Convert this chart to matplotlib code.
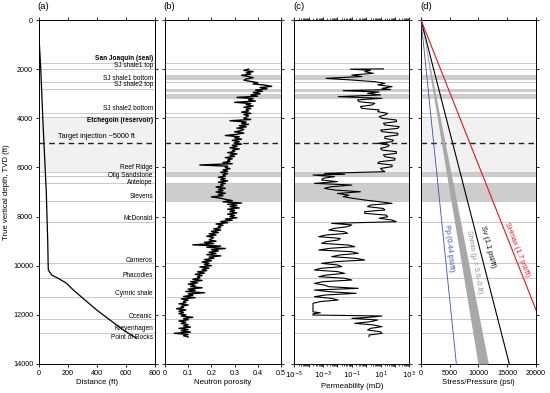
import numpy as np
import matplotlib
matplotlib.use('Agg')
import matplotlib.pyplot as plt
from matplotlib.ticker import LogLocator, NullFormatter

plt.rcParams['font.family'] = ['Liberation Sans', 'DejaVu Sans']

# well trajectory: horizontal distance vs depth
traj_depth = [0, 400, 1000, 2000, 3000, 4000, 5000, 6000, 7000, 8000, 9000, 10000,
              10175, 10379, 10515, 10718, 10989, 11396, 11803, 12210, 12617, 12915, 12956]
traj_dist = [0, 0, 5, 14, 21, 28, 36, 44, 52, 57, 62, 65,
             66, 89, 135, 192, 238, 318, 399, 490, 582, 662, 674]

# neutron porosity log, 50 ft samples from 2000 ft
por_top = 2000
por_step = 50
porosity = [
    0.36, 0.34, 0.38, 0.35, 0.37, 0.33, 0.36, 0.38, 0.35, 0.34,
    0.37, 0.40, 0.38, 0.43, 0.46, 0.41, 0.44, 0.39, 0.42, 0.38,
    0.41, 0.37, 0.40, 0.31, 0.38, 0.36, 0.39, 0.30, 0.37, 0.35,
    0.38, 0.34, 0.37, 0.35, 0.36, 0.33, 0.37, 0.34, 0.36, 0.35,
    0.34, 0.37, 0.28, 0.35, 0.33, 0.36, 0.32, 0.35, 0.31, 0.34,
    0.33, 0.30, 0.34, 0.31, 0.26, 0.32, 0.30, 0.33, 0.29, 0.32,
    0.30, 0.33, 0.29, 0.31, 0.28, 0.32, 0.29, 0.30, 0.27, 0.31,
    0.28, 0.30, 0.26, 0.29, 0.27, 0.28, 0.25, 0.29, 0.15, 0.27,
    0.26, 0.28, 0.25, 0.27, 0.24, 0.27, 0.25, 0.26, 0.23, 0.26,
    0.24, 0.27, 0.23, 0.26, 0.24, 0.25, 0.22, 0.26, 0.23, 0.25,
    0.22, 0.26, 0.23, 0.25, 0.20, 0.24, 0.26, 0.29, 0.25, 0.33,
    0.27, 0.31, 0.28, 0.32, 0.27, 0.30, 0.28, 0.31, 0.27, 0.30,
    0.28, 0.31, 0.26, 0.29, 0.24, 0.27, 0.22, 0.25, 0.23, 0.24,
    0.21, 0.24, 0.20, 0.23, 0.19, 0.22, 0.18, 0.21, 0.20, 0.19,
    0.22, 0.17, 0.21, 0.12, 0.24, 0.18, 0.26, 0.20, 0.23, 0.19,
    0.22, 0.18, 0.24, 0.19, 0.21, 0.17, 0.20, 0.16, 0.19, 0.17,
    0.20, 0.15, 0.19, 0.16, 0.18, 0.14, 0.17, 0.13, 0.16, 0.14,
    0.15, 0.12, 0.16, 0.11, 0.14, 0.10, 0.13, 0.11, 0.16, 0.10,
    0.13, 0.09, 0.17, 0.10, 0.12, 0.08, 0.13, 0.07, 0.10, 0.08,
    0.09, 0.06, 0.10, 0.07, 0.08, 0.05, 0.09, 0.06, 0.08, 0.06,
    0.09, 0.07, 0.12, 0.08, 0.10, 0.06, 0.09, 0.07, 0.10, 0.08,
    0.11, 0.06, 0.10, 0.07, 0.11, 0.04, 0.10, 0.08, 0.10,
]

# permeability log (log10 mD)
perm_depth = [1990, 2000, 2050, 2103, 2170, 2238, 2300, 2374, 2442, 2510, 2578, 2640,
              2713, 2781, 2830, 2876, 2930, 2985, 3050, 3120, 3188, 3250, 3324, 3390,
              3459, 3520, 3595, 3660, 3731, 3800, 3867, 3930, 4002, 4070, 4138, 4200,
              4274, 4340, 4409, 4480, 4545, 4610, 4680, 4750, 4816, 4890, 4952, 5020,
              5090, 5155, 5220, 5291, 5360, 5427, 5490, 5562, 5630, 5698, 5770, 5834,
              5900, 5969, 6040, 6105, 6173, 6241, 6280, 6309, 6377, 6440, 6512, 6580,
              6648, 6716, 6790, 6851, 6920, 6990, 7060, 7130, 7190, 7260, 7326, 7400,
              7462, 7530, 7597, 7670, 7733, 7800, 7869, 7940, 8004, 8070, 8140, 8208,
              8276, 8340, 8411, 8480, 8547, 8620, 8683, 8750, 8818, 8890, 8954, 9020,
              9090, 9160, 9225, 9290, 9361, 9430, 9497, 9560, 9632, 9700, 9768, 9830,
              9904, 9970, 10039, 10110, 10175, 10240, 10311, 10380, 10446, 10510, 10582, 10650,
              10718, 10790, 10853, 10921, 10989, 11060, 11125, 11190, 11260, 11330, 11396, 11460,
              11532, 11600, 11667, 11803, 11880, 11912, 11960, 12006, 12047, 12100, 12142, 12210,
              12280, 12345, 12410, 12481, 12550, 12617, 12690, 12752, 12820, 12888]
perm_log = [1.2, -1.1, 0.3, -0.1, 0.5, -1.0, -0.3, -2.8, -1.0, 0.6, 1.3, 0.8,
            1.8, 1.1, 1.7, -1.6, 0.9, 0.1, 1.0, -1.95, 1.1, -0.6, -0.5, 0.6,
            0.4, -0.4, -0.3, 0.9, 0.8, 1.5, 1.3, 0.9, 1.1, 2.1, 2.1, 1.2,
            1.3, 2.3, 2.2, 1.0, 1.1, 2.2, 2.2, 1.3, 1.3, 1.9, 1.8, 0.8,
            1.6, 1.5, 1.0, 1.1, 2.1, 2.1, 1.2, 1.3, 2.0, 2.0, 0.9, 0.8,
            1.8, 1.8, 1.0, 1.1, 1.3, -2.9, -1.5, -3.7, -2.2, -3.0, -3.1, -2.0,
            -3.6, -1.0, -2.5, -2.9, -2.2, -0.4, -2.0, -1.2, -1.6, -0.9, -0.1, 1.0,
            1.8, 0.3, 0.1, 1.2, 1.3, -0.1, -0.1, 1.4, 1.5, 0.9, 1.8, 2.1,
            -2.4, -1.0, -1.3, -2.2, -2.6, -1.5, -1.3, -2.8, -3.3, -1.8, -1.95, -2.8,
            -3.1, -1.2, -0.8, -2.5, -3.3, -1.0, -0.55, -1.8, -2.4, -0.7, -0.1, -2.0,
            -3.1, -2.0, -1.7, -3.2, -3.6, -2.0, -1.5, -2.8, -3.3, -1.5, -1.0, -3.0,
            -3.6, -2.9, -2.6, -0.55, -3.6, -2.5, -0.7, -2.8, -3.6, -2.4, -1.95, -3.2,
            -3.7, -3.7, -3.7, -3.7, -3.7, -3.2, -3.7, -3.7, 1.1, 0.2, -1.0, 0.8,
            0.3, -0.8, 0.5, 1.1, 0.3, 0.1, 1.0, 1.1, 0.2, 0.2]

# formation tops (thin lines) and labels
top_lines = [1762, 2007, 2510, 2820, 3785, 3935, 6175, 6330, 6620, 7367, 8208,
             9903, 10515, 11274, 12183, 12740]
form_names = ['San Joaquin (seal)', 'SJ shale1 top', 'SJ shale1 bottom', 'SJ shale2 top',
              'SJ shale2 bottom', 'Etchegoin (reservoir)', 'Reef Ridge', 'Olig Sandstone',
              'Antelope', 'Stevens', 'McDonald', 'Carneros', 'Phacodies', 'Cymric shale',
              'Oceanic', 'Kreyenhagen', 'Point of Rocks']
form_depth = [1560, 1860, 2375, 2645, 3595, 4110, 6010, 6335, 6620, 7190, 8070,
              9770, 10380, 11125, 12050, 12575, 12915]
bold_names = ['San Joaquin (seal)', 'Etchegoin (reservoir)']

reservoir = (3935, 6175)
shale_bands = [(2240, 2440), (2820, 2920), (3025, 3230), (6240, 6330), (6620, 7350)]
target_depth = 5000

# stress gradients (psi/ft)
pp_grad = 0.44
sv_grad = 1.1
shmax_grad = 1.7
shmin_grads = (0.71, 0.84)
max_depth = 14000

fig = plt.figure(figsize=(5.5, 3.93), dpi=100)
bottom, height = 0.0738, 0.8753
ax_a = fig.add_axes([0.0704, bottom, 0.2115, height])
ax_b = fig.add_axes([0.3000, bottom, 0.2109, height])
ax_c = fig.add_axes([0.5351, bottom, 0.2091, height])
ax_d = fig.add_axes([0.7655, bottom, 0.2085, height])
axes = [ax_a, ax_b, ax_c, ax_d]

line_col = '#c8c8c8'
for i, ax in enumerate(axes):
    ax.set_ylim(max_depth, 0)
    ax.axhspan(*reservoir, color='#f1f1f1', lw=0, zorder=0)
    if i > 0:
        for b0, b1 in shale_bands:
            ax.axhspan(b0, b1, color='#cdcdcd', lw=0, zorder=0.5)
    for d in top_lines:
        ax.axhline(d, color=line_col, lw=0.7, zorder=1)
    ax.axhline(target_depth, color='#222222', lw=1.0, ls=(0, (4, 3)), zorder=3)
    ax.set_yticks(np.arange(0, 14001, 2000))
    ax.tick_params(direction='out', top=True, right=True, length=2.5, width=0.6,
                   labelsize=5.2, pad=1.5)
    ax.tick_params(which='minor', direction='out', top=True, length=1.5, width=0.5)
    for s in ax.spines.values():
        s.set_linewidth(0.7)
    if i > 0:
        ax.tick_params(labelleft=False)

# (a) trajectory
ax_a.plot(traj_dist, traj_depth, color='black', lw=0.9, zorder=4)
ax_a.set_xlim(0, 800)
ax_a.set_xticks([0, 200, 400, 600, 800])
ax_a.set_xlabel('Distance (ft)', fontsize=5.6, labelpad=1.5)
ax_a.set_ylabel('True vertical depth, TVD (ft)', fontsize=5.6, labelpad=2)
for name, d in zip(form_names, form_depth):
    ax_a.text(785, d, name, ha='right', va='center', fontsize=4.7,
              fontweight='bold' if name in bold_names else 'normal', zorder=5)
ax_a.text(400, 4750, 'Target injection ~5000 ft', ha='center', va='center',
          fontsize=5.2, zorder=5)

# (b) neutron porosity
por_depth = por_top + por_step * np.arange(len(porosity))
ax_b.plot(porosity, por_depth, color='black', lw=1.0, zorder=4)
ax_b.set_xlim(0, 0.5)
ax_b.set_xticks([0, 0.1, 0.2, 0.3, 0.4, 0.5])
ax_b.set_xticklabels(['0', '0.1', '0.2', '0.3', '0.4', '0.5'])
ax_b.set_xlabel('Neutron porosity', fontsize=5.6, labelpad=1.5)

# (c) permeability
ax_c.plot(10.0 ** np.array(perm_log), perm_depth, color='black', lw=0.8, zorder=4)
ax_c.set_xscale('log')
ax_c.set_xlim(1e-5, 1e3)
ax_c.set_xticks([10.0 ** k for k in range(-5, 4)])
ax_c.set_xticklabels(['$10^{%d}$' % k if k % 2 else '' for k in range(-5, 4)])
ax_c.xaxis.set_minor_locator(LogLocator(base=10, subs=np.arange(2, 10), numticks=20))
ax_c.xaxis.set_minor_formatter(NullFormatter())
ax_c.set_xlabel('Permeability (mD)', fontsize=5.6, labelpad=1.5)

# (d) stress
ax_d.fill_betweenx([0, max_depth], [0, shmin_grads[0] * max_depth],
                   [0, shmin_grads[1] * max_depth], color='#a8a8a8', lw=0, zorder=3)
ax_d.plot([0, pp_grad * max_depth], [0, max_depth], color='#3a4fc0', lw=0.6, zorder=4)
ax_d.plot([0, sv_grad * max_depth], [0, max_depth], color='black', lw=0.8, zorder=4)
ax_d.plot([0, shmax_grad * max_depth], [0, max_depth], color='#e8141c', lw=0.8, zorder=4)
ax_d.set_xlim(0, 20000)
ax_d.set_xticks([0, 5000, 10000, 15000, 20000])
ax_d.set_xlabel('Stress/Pressure (psi)', fontsize=5.6, labelpad=1.5)


def line_angle(ax, grad):
    p0 = ax.transData.transform((0, 0))
    p1 = ax.transData.transform((grad * 10000, 10000))
    return np.degrees(np.arctan2(p1[1] - p0[1], p1[0] - p0[0]))


stress_labels = [
    ('Pp (0.44 psi/ft)', pp_grad, 4800, 9300, '#3a4fc0'),
    ('Shmin (\u03bc = 0.6\u20130.8)', sum(shmin_grads) / 2, 9350, 9850, '#8a8a8a'),
    ('Sv (1.1 psi/ft)', sv_grad, 11650, 9250, 'black'),
    ('SHmax (1.7 psi/ft)', shmax_grad, 16750, 9360, '#e8141c'),
]
for txt, g, x, d, col in stress_labels:
    ax_d.text(x, d, txt, color=col, fontsize=5.2, rotation=line_angle(ax_d, g),
              rotation_mode='anchor', ha='center', va='center', zorder=5)

for ax, lab in zip(axes, ['(a)', '(b)', '(c)', '(d)']):
    ax.text(-0.01, 1.025, lab, transform=ax.transAxes, fontsize=6.8,
            ha='left', va='bottom')

fig.savefig('out.png', dpi=100)
